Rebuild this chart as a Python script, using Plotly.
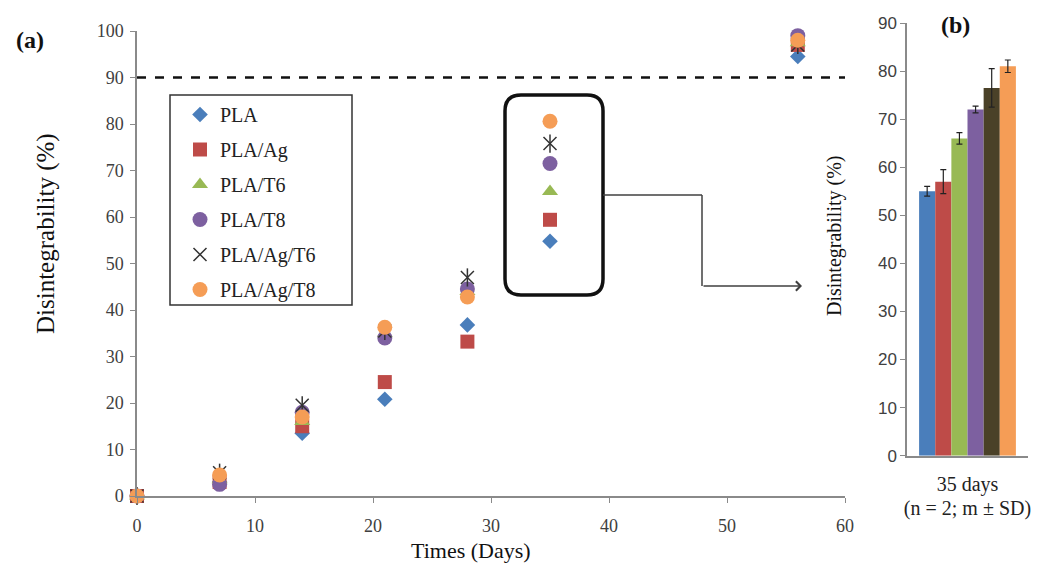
import plotly.graph_objects as go

W, H = 1037, 565
M = 8  # explicit margin on every side; positions below are mapped into the plot area
PW, PH = W - 2 * M, H - 2 * M

days = [0, 7, 14, 21, 28, 35, 56]
series_names = ["PLA", "PLA/Ag", "PLA/T6", "PLA/T8", "PLA/Ag/T6", "PLA/Ag/T8"]
pla = [0, 3.0, 13.5, 20.8, 36.8, 54.8, 94.5]
pla_ag = [0, 3.0, 15.0, 24.5, 33.2, 59.4, 97.0]
pla_t6 = [0, 3.5, 16.0, 35.0, 44.0, 65.5, 97.5]
pla_t8 = [0, 2.5, 18.0, 34.0, 44.5, 71.5, 99.0]
pla_ag_t6 = [0, 5.0, 19.5, 35.5, 47.0, 75.8, 97.0]
pla_ag_t8 = [0, 4.5, 17.0, 36.3, 42.8, 80.6, 98.0]

bar_category = ["35 days"]
bar_note = "(n = 2; m ± SD)"
bar_means = [55.0, 57.0, 66.0, 72.0, 76.5, 81.0]
bar_sd = [1.0, 2.5, 1.2, 0.7, 4.0, 1.3]

x_ticks_a = [0, 10, 20, 30, 40, 50, 60]
y_ticks_a = [0, 10, 20, 30, 40, 50, 60, 70, 80, 90, 100]
y_ticks_b = [0, 10, 20, 30, 40, 50, 60, 70, 80, 90]
threshold = 90

colors = ["#4A7EBB", "#BE4B48", "#98B954", "#7D60A0", "#4A4128", "#F59D56"]
marker_syms = ["diamond", "square", "triangle-up", "circle", "x-thin-open", "circle"]
marker_sizes = [12, 14, 14, 15, 13, 15]

def px_x(p):
    return (p - M) / PW

def px_y(p):
    return 1 - (p - M) / PH

fig = go.Figure()

ser = [pla, pla_ag, pla_t6, pla_t8, pla_ag_t6, pla_ag_t8]
for i, (name, vals) in enumerate(zip(series_names, ser)):
    if name == "PLA/Ag/T6":
        fig.add_trace(go.Scatter(
            x=days, y=vals, mode="markers", name=name, legendgroup=name,
            cliponaxis=False,
            marker=dict(symbol="x-thin-open", size=13, color="#333333",
                        line=dict(color="#333333", width=1.5)),
            xaxis="x", yaxis="y"))
        fig.add_trace(go.Scatter(
            x=days, y=vals, mode="markers", name=name, legendgroup=name,
            showlegend=False, cliponaxis=False,
            marker=dict(symbol="line-ns-open", size=13, color="#333333",
                        line=dict(color="#333333", width=1.5)),
            xaxis="x", yaxis="y"))
    else:
        fig.add_trace(go.Scatter(
            x=days, y=vals, mode="markers", name=name, legendgroup=name,
            cliponaxis=False,
            marker=dict(symbol=marker_syms[i], size=marker_sizes[i],
                        color=colors[i], line=dict(width=0)),
            xaxis="x", yaxis="y"))

for i, name in enumerate(series_names):
    fig.add_trace(go.Bar(
        x=bar_category, y=[bar_means[i]], name=name, showlegend=False,
        marker=dict(color=colors[i], line=dict(width=0)),
        error_y=dict(type="data", array=[bar_sd[i]], color="#222222",
                     thickness=1.2, width=3),
        xaxis="x2", yaxis="y2"))

serif = "Liberation Serif, Times New Roman, serif"
tick_col = "#404040"
axis_col = "#8A8A8A"

fig.update_layout(
    width=W, height=H,
    margin=dict(l=M, r=M, t=M, b=M, autoexpand=False),
    paper_bgcolor="white", plot_bgcolor="white",
    barmode="group", bargap=0.2, bargroupgap=0,
    font=dict(family=serif, color="#222222"),
    showlegend=True,
    legend=dict(x=px_x(180), y=px_y(95), xanchor="left", yanchor="top",
                bgcolor="rgba(0,0,0,0)", borderwidth=0,
                font=dict(family=serif, size=20, color="#222222"),
                itemwidth=30, tracegroupgap=6, traceorder="grouped"),
    xaxis=dict(domain=[px_x(137), px_x(845)], range=[0, 60],
               tickvals=x_ticks_a, showgrid=False, zeroline=False,
               showline=True, linecolor=axis_col, linewidth=1.5,
               ticks="outside", ticklen=5, tickcolor=axis_col,
               ticklabelstandoff=8,
               tickfont=dict(family=serif, size=18, color=tick_col),
               anchor="y"),
    yaxis=dict(domain=[px_y(496), px_y(31)], range=[0, 100],
               tickvals=y_ticks_a, showgrid=False, zeroline=False,
               showline=True, linecolor=axis_col, linewidth=1.5,
               ticks="outside", ticklen=5, tickcolor=axis_col,
               ticklabelstandoff=3,
               tickfont=dict(family=serif, size=18, color=tick_col),
               anchor="x"),
    xaxis2=dict(domain=[px_x(907), px_x(1028)], range=[-0.5, 0.5],
                showgrid=False, zeroline=False,
                showline=True, linecolor=axis_col, linewidth=1.5,
                ticks="", ticklabelstandoff=10,
                tickfont=dict(family=serif, size=20, color="#222222"),
                title=dict(text=bar_note, standoff=6,
                           font=dict(family=serif, size=20, color="#222222")),
                anchor="y2"),
    yaxis2=dict(domain=[px_y(455.7), px_y(23)], range=[0, 90],
                tickvals=y_ticks_b, showgrid=False, zeroline=False,
                showline=True, linecolor=axis_col, linewidth=1.5,
                ticks="outside", ticklen=5, tickcolor=axis_col,
                tickfont=dict(family="Liberation Sans, Arial, sans-serif", size=17, color=tick_col),
                anchor="x2"),
)

shapes = []
# 90% threshold dashed line
shapes.append(dict(type="line", xref="x", yref="y", x0=0, x1=60,
                   y0=threshold, y1=threshold,
                   line=dict(color="#111111", width=2.5, dash="dash")))
# legend box
shapes.append(dict(type="rect", xref="paper", yref="paper",
                   x0=px_x(170), x1=px_x(352), y0=px_y(305), y1=px_y(95),
                   line=dict(color="#333333", width=1.5)))
# rounded inset box
x0, x1, y0, y1, r = 505, 603, 95, 295, 16
path = (f"M {px_x(x0 + r)},{px_y(y0)} L {px_x(x1 - r)},{px_y(y0)} "
        f"Q {px_x(x1)},{px_y(y0)} {px_x(x1)},{px_y(y0 + r)} "
        f"L {px_x(x1)},{px_y(y1 - r)} Q {px_x(x1)},{px_y(y1)} {px_x(x1 - r)},{px_y(y1)} "
        f"L {px_x(x0 + r)},{px_y(y1)} Q {px_x(x0)},{px_y(y1)} {px_x(x0)},{px_y(y1 - r)} "
        f"L {px_x(x0)},{px_y(y0 + r)} Q {px_x(x0)},{px_y(y0)} {px_x(x0 + r)},{px_y(y0)} Z")
shapes.append(dict(type="path", xref="paper", yref="paper", path=path,
                   line=dict(color="#111111", width=3.5)))
# connector lines
shapes.append(dict(type="line", xref="paper", yref="paper",
                   x0=px_x(603), x1=px_x(702), y0=px_y(195), y1=px_y(195),
                   line=dict(color="#404040", width=1.5)))
shapes.append(dict(type="line", xref="paper", yref="paper",
                   x0=px_x(702), x1=px_x(702), y0=px_y(195), y1=px_y(286),
                   line=dict(color="#404040", width=1.5)))
fig.update_layout(shapes=shapes)

def note(text, x, y, size, angle=0, bold=False):
    return dict(text=f"<b>{text}</b>" if bold else text,
                x=px_x(x), y=px_y(y), xref="paper", yref="paper",
                xanchor="center", yanchor="middle", textangle=angle,
                showarrow=False, font=dict(family=serif, size=size, color="#111111"))

annotations = [
    note("(a)", 30, 40, 24, bold=True),
    note("(b)", 955, 25, 24, bold=True),
    note("Disintegrability (%)", 46, 234, 25, angle=-90),
    note("Times (Days)", 471, 550, 22),
    note("Disintegrability (%)", 834, 236, 20, angle=-90),
    dict(text="", x=px_x(802), y=px_y(286), ax=-100, ay=0,
         xref="paper", yref="paper", axref="pixel", ayref="pixel",
         showarrow=True, arrowhead=4, arrowsize=1.2, arrowwidth=1.5, arrowcolor="#404040"),
]
fig.update_layout(annotations=annotations)

fig.write_html("out.html")
